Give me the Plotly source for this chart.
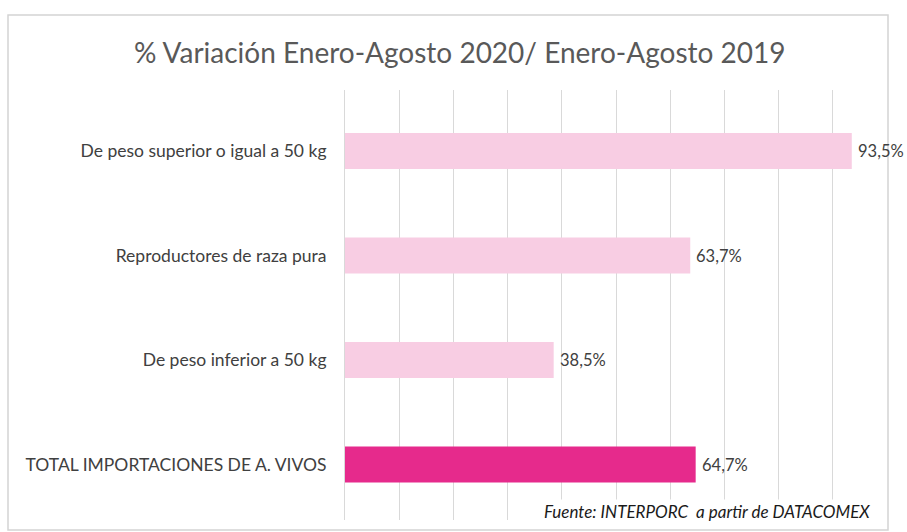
import plotly.graph_objects as go

# Data
categories = [
    "De peso superior o igual a 50 kg",
    "Reproductores de raza pura",
    "De peso inferior a 50 kg",
    "TOTAL IMPORTACIONES DE A. VIVOS",
]
variation_pct = [93.5, 63.7, 38.5, 64.7]
bar_colors = ["#F8CDE3", "#F8CDE3", "#F8CDE3", "#E62A8C"]

title_text = "% Variación Enero-Agosto 2020/ Enero-Agosto 2019"
source_text = "Fuente: INTERPORC  a partir de DATACOMEX"

# Page / plot geometry (pixels)
W, H = 907, 532
PL, PR, PT, PB = 345, 887, 90, 520


def px_x(px):
    return (px - PL) / (PR - PL)


def px_y(py):
    return (PB - py) / (PB - PT)


labels = [f"{v:.1f}".replace(".", ",") + "%" for v in variation_pct]

fig = go.Figure(
    go.Bar(
        y=categories,
        x=variation_pct,
        orientation="h",
        marker=dict(color=bar_colors, line=dict(width=0)),
        width=0.345,
        hoverinfo="skip",
    )
)

# value labels just past the end of each bar
value_annotations = [
    dict(
        x=v,
        y=c,
        xref="x",
        yref="y",
        text=t,
        xanchor="left",
        yanchor="middle",
        xshift=4,
        showarrow=False,
        font=dict(family="Lato", size=16.5, color="#404040"),
    )
    for c, v, t in zip(categories, variation_pct, labels)
]

fig.update_layout(
    width=W,
    height=H,
    margin=dict(l=PL, r=W - PR, t=PT, b=H - PB, pad=0),
    paper_bgcolor="white",
    plot_bgcolor="white",
    showlegend=False,
    font=dict(family="Lato", color="#404040"),
    xaxis=dict(
        range=[0, 100],
        dtick=10,
        showgrid=True,
        gridcolor="#d9d9d9",
        gridwidth=1,
        zeroline=False,
        showticklabels=False,
        ticks="",
        showline=False,
        fixedrange=True,
    ),
    yaxis=dict(
        type="category",
        categoryorder="array",
        categoryarray=categories,
        range=[3.531, -0.584],
        showgrid=False,
        zeroline=False,
        showline=True,
        linecolor="#d9d9d9",
        linewidth=1,
        ticks="",
        ticklabelstandoff=14,
        tickfont=dict(family="Lato", size=17.5, color="#404040"),
        fixedrange=True,
    ),
    shapes=[
        dict(
            type="rect",
            xref="paper",
            yref="paper",
            x0=px_x(8),
            x1=px_x(888),
            y0=px_y(530),
            y1=px_y(15),
            line=dict(color="#d4d4d4", width=1.5),
            fillcolor="rgba(0,0,0,0)",
            layer="above",
        )
    ],
    annotations=value_annotations
    + [
        dict(
            text=title_text,
            xref="paper",
            yref="paper",
            x=px_x(460),
            y=px_y(52),
            xanchor="center",
            yanchor="middle",
            showarrow=False,
            font=dict(family="Lato", size=28, color="#595959"),
        ),
        dict(
            text="<i>" + source_text + "</i>",
            xref="paper",
            yref="paper",
            x=px_x(872),
            y=px_y(511),
            xanchor="right",
            yanchor="middle",
            showarrow=False,
            bgcolor="white",
            font=dict(family="Lato", size=17, color="#1a1a1a"),
        ),
    ],
)

fig.write_html("out.html")
